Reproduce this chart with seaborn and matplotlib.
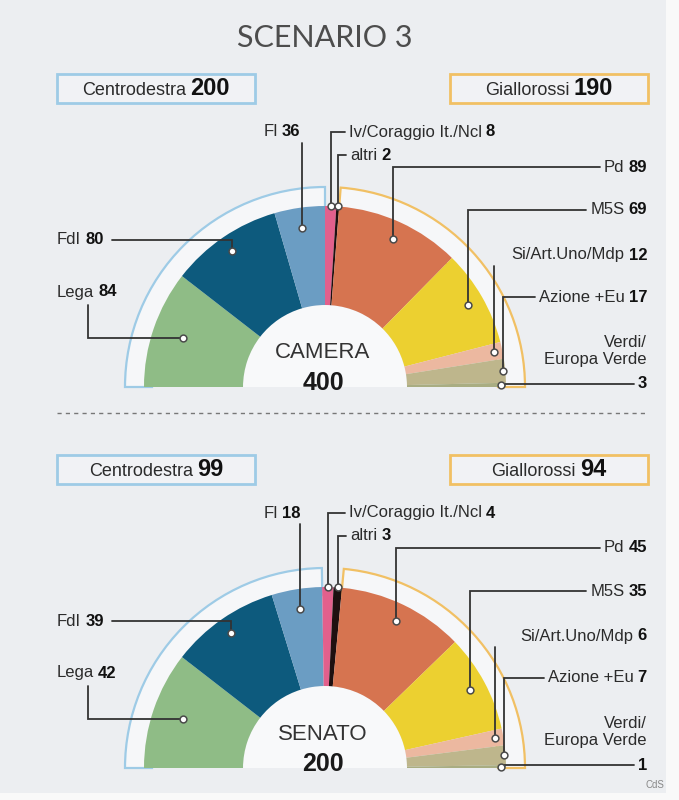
import numpy as np
import matplotlib
matplotlib.use('Agg')
import matplotlib.pyplot as plt
from matplotlib.patches import Wedge, Rectangle
import seaborn as sns

# Data
parties = ['Lega', 'FdI', 'FI', 'Iv/Coraggio It./Ncl', 'altri',
           'Pd', 'M5S', 'Si/Art.Uno/Mdp', 'Azione +Eu', 'Verdi/\nEuropa Verde']
camera_seats = [84, 80, 36, 8, 2, 89, 69, 12, 17, 3]
senato_seats = [42, 39, 18, 4, 3, 45, 35, 6, 7, 1]
party_colors = ['#8fbc86', '#0d5a7d', '#6b9dc3', '#e2608c', '#1e1010',
                '#d67450', '#ecd030', '#ecb8a0', '#beb68c', '#a9ad82']
coalition_names = ['Centrodestra', 'Giallorossi']
coalition_members = [[0, 1, 2], [5, 6, 7, 8, 9]]
coalition_colors = ['#9ecbe6', '#f1c064']
chamber_names = ['CAMERA', 'SENATO']

# Label layout (pixels): x of text, height above chart base, alignment, leader route
label_x = [57, 57, 282, 349, 350, 647, 647, 647, 647, 647]
label_h = [95, 147, 255, 255, 232, 220, 177, 132, 90, 3]
label_ha = ['left', 'left', 'center', 'left', 'left', 'right', 'right', 'right', 'right', 'right']
routes = ['elbow', 'right', 'below', 'left', 'left', 'left', 'left', 'below', 'left', 'left']
dot_rfrac = [0.83, 0.91, 0.89, 1.0, 1.0, 0.9, 0.91, 0.955, 0.99, 0.97]

sns.set_theme(style='white')
plt.rcParams['font.family'] = ['Liberation Sans', 'DejaVu Sans']

W, H = 679, 800
BG = '#eceef1'
fig = plt.figure(figsize=(W / 100, H / 100), dpi=100, facecolor=BG)
ax = fig.add_axes([0, 0, 1, 1])
ax.set_facecolor(BG)
ax.set_xlim(0, W)
ax.set_ylim(0, H)
renderer = fig.canvas.get_renderer()

R, RI, RB = 181, 82, 200
CX = 325
TXT = '#2b2b2b'


def two_part(x, y, name, num, ha, s1=12, s2=12, va='center'):
    t1 = ax.text(0, y, name, fontsize=s1, color=TXT, va=va, ha='left', zorder=7)
    t2 = ax.text(0, y, num, fontsize=s2, fontweight='bold', color='#111', va=va, ha='left', zorder=7)
    w1 = t1.get_window_extent(renderer).width if name else 0
    w2 = t2.get_window_extent(renderer).width
    gap = 4 if name else 0
    tot = w1 + gap + w2
    x0 = {'left': x, 'right': x - tot, 'center': x - tot / 2}[ha]
    t1.set_x(x0)
    t2.set_x(x0 + w1 + gap)
    return x0, x0 + tot


def draw_chamber(seats, chamber, base):
    cy = H - base
    total = sum(seats)
    cum = np.concatenate([[0], np.cumsum(seats)])
    ang = 180 - cum / total * 180

    # coalition boxes and brackets
    box_x = [57, 450]
    for k, idx in enumerate(coalition_members):
        a_start, a_end = ang[idx[0]], ang[idx[-1] + 1]
        ax.add_patch(Wedge((CX, cy), RB, a_end, a_start, width=RB - R + 8,
                           fc='#f6f7f9', ec=coalition_colors[k], lw=1.6, zorder=1))
        ax.add_patch(Rectangle((box_x[k], cy + 284), 198, 29, fc='#f1f2f5',
                               ec=coalition_colors[k], lw=2, zorder=1))
        two_part(box_x[k] + 99, cy + 292, coalition_names[k],
                 str(sum(seats[i] for i in idx)), 'center', s1=13, s2=17, va='baseline')

    # white hole
    ax.add_patch(Wedge((CX, cy), RI, 0, 180, fc='#f8f9fa', lw=0, zorder=1))

    ax.pie(seats + [total], colors=party_colors + ['none'], startangle=180,
           counterclock=False, radius=R, center=(CX, cy), frame=True,
           wedgeprops=dict(width=R - RI, linewidth=0, zorder=2))

    mid = np.radians((ang[:-1] + ang[1:]) / 2)
    rr = np.array(dot_rfrac) * R
    dot_x = CX + rr * np.cos(mid)
    dot_y = cy + rr * np.sin(mid)
    sns.scatterplot(x=dot_x, y=dot_y, s=24, color='white', edgecolor='#4a4a4a',
                    linewidth=1.1, zorder=6, ax=ax, legend=False)

    for i, p in enumerate(parties):
        ty = cy + label_h[i]
        if '\n' in p:
            ax.text(label_x[i], cy + 36, p, fontsize=12, color=TXT, ha='right',
                    va='center', linespacing=1.15, multialignment='right', zorder=7)
            x0, x1 = two_part(label_x[i], ty, '', str(seats[i]), 'right')
        else:
            x0, x1 = two_part(label_x[i], ty, p, str(seats[i]), label_ha[i])
        dx, dy = dot_x[i], dot_y[i]
        if routes[i] == 'left':
            pts = [(x0 - 4, ty), (dx, ty), (dx, dy)]
        elif routes[i] == 'right':
            pts = [(x1 + 8, ty), (dx, ty), (dx, dy)]
        elif routes[i] == 'below':
            pts = [(dx, ty - 11), (dx, dy)]
        else:
            pts = [(88, ty - 13), (88, dy), (dx, dy)]
        xs, ys = zip(*pts)
        ax.plot(xs, ys, color='#333333', lw=1.3, zorder=5, solid_joinstyle='miter')

    ax.text(CX - 2, cy + 34, chamber, fontsize=16, color='#333', ha='center', va='center', zorder=7)
    ax.text(CX - 2, cy + 4, str(total), fontsize=18, fontweight='bold', color='#1a1a1a',
            ha='center', va='center', zorder=7)


draw_chamber(camera_seats, chamber_names[0], 387)
draw_chamber(senato_seats, chamber_names[1], 768)

# title, separator, credit
ax.text(325, H - 38, 'SCENARIO 3', fontsize=22, color='#4d4d4d', ha='center', va='center',
        family=['Lato', 'Liberation Sans'], fontweight='normal')
ax.plot([57, 648], [H - 413, H - 413], color='#777', lw=1, ls=(0, (3, 3)))
ax.text(664, H - 785, 'CdS', fontsize=7, color='#888', ha='right', va='center')

fig.patches.append(Rectangle((666 / W, 0), 1, 1, transform=fig.transFigure, fc='#f9f9f9', lw=0, zorder=-1))
fig.patches.append(Rectangle((0, 0), 1, 7 / H, transform=fig.transFigure, fc='#f9f9f9', lw=0, zorder=-1))

ax.set_xlim(0, W)
ax.set_ylim(0, H)
ax.set_aspect('auto')
ax.axis('off')
fig.savefig('out.png', dpi=100, facecolor=BG)
